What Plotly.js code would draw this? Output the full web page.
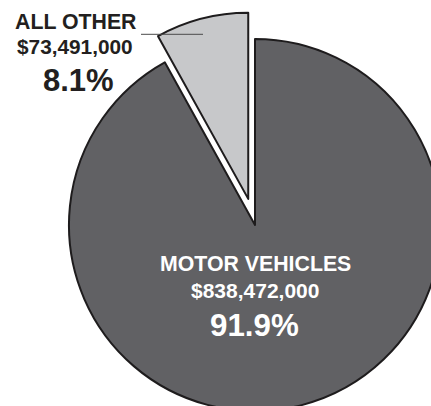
<!DOCTYPE html>
<html>
<head>
<meta charset="utf-8">
<script src="https://cdn.plot.ly/plotly-3.0.1.min.js"></script>
<style>
  html, body { margin: 0; padding: 0; overflow: hidden; background: #ffffff; width: 431px; height: 406px; }
  #chart { width: 480px; height: 450px; }
</style>
</head>
<body>
<div id="chart"></div>
<script>
// ---- data ----
var categories = ["MOTOR VEHICLES", "ALL OTHER"];
var amounts = [838472000, 73491000];
var shareLabels = ["91.9%", "8.1%"];
var sliceColors = ["#616164", "#c7c8ca"];
var pulls = [0, 0.145];

var W = 480, H = 450;
function px(x) { return x / W; }
function py(y) { return 1 - y / H; }
function money(v) { return "$" + v.toLocaleString("en-US"); }

var FONT = "Liberation Sans, Arial, Helvetica, sans-serif";

var trace = {
  type: "pie",
  labels: categories,
  values: amounts,
  sort: false,
  direction: "clockwise",
  rotation: 0,
  pull: pulls,
  textinfo: "none",
  hoverinfo: "none",
  showlegend: false,
  marker: { colors: sliceColors, line: { color: "#1e1c1d", width: 2 } },
  domain: { x: [42 / W, 468 / W], y: [1 - 438 / H, 1 - 12 / H] }
};

function ann(text, x, y, size, color) {
  return {
    xref: "paper", yref: "paper", x: px(x), y: py(y),
    xanchor: "center", yanchor: "middle", showarrow: false,
    text: "<b>" + text + "</b>",
    font: { family: FONT, size: size, color: color }
  };
}

var annotations = [
  ann(categories[1], 75, 22, 21.3, "#231f20"),
  ann(money(amounts[1]), 75, 46, 20.8, "#231f20"),
  ann(shareLabels[1], 78, 81, 31, "#231f20"),
  ann(categories[0], 255, 264, 21.3, "#ffffff"),
  ann(money(amounts[0]), 255, 290, 21, "#ffffff"),
  ann(shareLabels[0], 254, 325, 31.3, "#ffffff")
];

var layout = {
  width: W, height: H,
  margin: { l: 0, r: 0, t: 0, b: 0, pad: 0 },
  paper_bgcolor: "#ffffff",
  plot_bgcolor: "#ffffff",
  annotations: annotations,
  shapes: [{
    type: "line", xref: "paper", yref: "paper",
    x0: px(141), x1: px(203), y0: py(34.3), y1: py(34.3),
    line: { color: "#4a4a4a", width: 1 }
  }]
};

Plotly.newPlot("chart", [trace], layout, { displayModeBar: false, staticPlot: true });
</script>
</body>
</html>
